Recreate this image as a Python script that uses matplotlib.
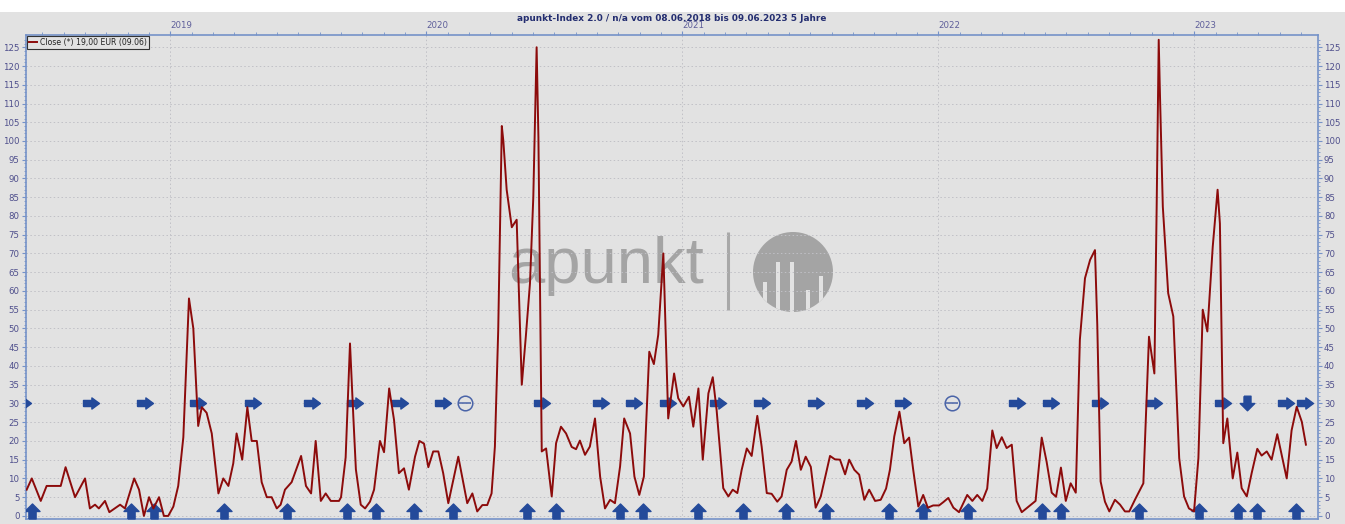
import numpy as np
import matplotlib
matplotlib.use('Agg')
import matplotlib.pyplot as plt
from matplotlib.path import Path
from matplotlib.patches import Rectangle, Circle

# apunkt-Index 2.0, weekly close, x in decimal years
weeks = [
    2018.439, 2018.459, 2018.494, 2018.517, 2018.572, 2018.591, 2018.628, 2018.667, 2018.686, 2018.706,
    2018.721, 2018.745, 2018.762, 2018.804, 2018.823, 2018.859, 2018.878, 2018.897, 2018.917, 2018.934,
    2018.956, 2018.975, 2018.992, 2019.012, 2019.031, 2019.051, 2019.073, 2019.090, 2019.109, 2019.123,
    2019.142, 2019.162, 2019.188, 2019.207, 2019.227, 2019.246, 2019.259, 2019.281, 2019.301, 2019.318,
    2019.338, 2019.357, 2019.377, 2019.396, 2019.416, 2019.431, 2019.448, 2019.474, 2019.511, 2019.530,
    2019.550, 2019.568, 2019.588, 2019.607, 2019.627, 2019.659, 2019.667, 2019.685, 2019.702, 2019.715,
    2019.725, 2019.744, 2019.761, 2019.780, 2019.796, 2019.819, 2019.835, 2019.855, 2019.874, 2019.893,
    2019.913, 2019.932, 2019.956, 2019.973, 2019.991, 2020.008, 2020.027, 2020.047, 2020.066, 2020.086,
    2020.125, 2020.160, 2020.180, 2020.199, 2020.219, 2020.238, 2020.255, 2020.268, 2020.281, 2020.295,
    2020.301, 2020.314, 2020.334, 2020.353, 2020.373, 2020.389, 2020.405, 2020.418, 2020.431, 2020.438,
    2020.451, 2020.468, 2020.490, 2020.507, 2020.526, 2020.546, 2020.568, 2020.585, 2020.600, 2020.620,
    2020.639, 2020.659, 2020.679, 2020.698, 2020.718, 2020.737, 2020.757, 2020.773, 2020.796, 2020.813,
    2020.832, 2020.850, 2020.871, 2020.889, 2020.906, 2020.926, 2020.945, 2020.968, 2020.984, 2021.004,
    2021.026, 2021.043, 2021.063, 2021.080, 2021.102, 2021.119, 2021.134, 2021.160, 2021.180, 2021.197,
    2021.215, 2021.232, 2021.252, 2021.271, 2021.293, 2021.310, 2021.330, 2021.349, 2021.371, 2021.388,
    2021.408, 2021.427, 2021.444, 2021.463, 2021.482, 2021.502, 2021.521, 2021.541, 2021.577, 2021.596,
    2021.616, 2021.636, 2021.652, 2021.672, 2021.691, 2021.711, 2021.730, 2021.753, 2021.775, 2021.796,
    2021.811, 2021.828, 2021.848, 2021.867, 2021.886, 2021.902, 2021.922, 2021.941, 2021.959, 2021.980,
    2022.003, 2022.020, 2022.039, 2022.059, 2022.081, 2022.113, 2022.133, 2022.152, 2022.172, 2022.191,
    2022.211, 2022.228, 2022.248, 2022.267, 2022.287, 2022.306, 2022.326, 2022.380, 2022.404, 2022.423,
    2022.443, 2022.460, 2022.479, 2022.498, 2022.517, 2022.537, 2022.553, 2022.573, 2022.593, 2022.612,
    2022.621, 2022.634, 2022.651, 2022.668, 2022.690, 2022.710, 2022.729, 2022.746, 2022.768, 2022.801,
    2022.823, 2022.844, 2022.853, 2022.861, 2022.866, 2022.877, 2022.898, 2022.918, 2022.941, 2022.960,
    2022.979, 2022.999, 2023.016, 2023.033, 2023.051, 2023.072, 2023.091, 2023.100, 2023.113, 2023.129,
    2023.150, 2023.168, 2023.185, 2023.205, 2023.224, 2023.246, 2023.263, 2023.283, 2023.302, 2023.324,
    2023.361, 2023.380, 2023.400, 2023.420, 2023.436]

close = [
    7, 10, 4, 8, 8, 13, 5, 10, 2, 3,
    2, 4, 1, 3, 2, 10, 7, 0, 5, 2,
    5, 0, 0, 2.5, 8, 21, 58, 50, 24, 29,
    27.5, 22, 6, 10, 8, 14, 22, 15, 29, 20,
    20, 9, 5, 5, 2, 3, 7, 9, 16, 8,
    6, 20, 4, 6, 4, 4, 5, 15.6, 46, 26.5,
    12.4, 3, 2, 3.8, 7, 20, 17, 34, 25.6, 11.4,
    12.7, 7, 15.8, 20, 19.3, 13, 17.2, 17.2, 11.4, 3.4,
    15.8, 3.4, 6, 1.2, 2.9, 2.9, 6, 18.5, 49.6, 104,
    100, 87, 77, 79, 35, 48, 62, 85, 125, 101,
    17.2, 18, 5.2, 19.4, 23.8, 22, 18.4, 17.8, 20.1, 16.3,
    18.5, 26, 10.5, 2, 4.3, 3.4, 13.2, 26, 22, 10.5,
    5.6, 10.5, 43.8, 40.5, 48.3, 70, 26, 38, 31.4, 29.2,
    31.8, 23.8, 34, 15, 32.7, 37, 28.3, 7.4, 5.2, 7,
    6.1, 12.3, 18, 16, 26.7, 18.5, 6.1, 5.9, 3.8, 5.2,
    12.3, 14.5, 20, 12.3, 15.8, 13.1, 2.2, 5.2, 16, 15.1,
    15, 11.1, 15, 12.3, 11, 4.3, 7, 4, 4.3, 7.3,
    12.3, 21.2, 27.8, 19.4, 20.9, 12.3, 2.5, 5.6, 2.2, 2.8,
    2.8, 3.7, 4.8, 2.2, 1, 5.6, 4, 5.6, 4, 7.3,
    22.8, 18.1, 21, 18.1, 19, 4, 1, 4, 20.9, 14.5,
    6.2, 5.1, 12.9, 4, 8.7, 6.2, 47, 63.4, 68.3, 70.9,
    51, 9.2, 3.8, 1.2, 4.3, 3, 1.2, 1.2, 4.3, 8.7,
    47.8, 38, 82.5, 127, 112, 82.5, 59.4, 53.2, 15.4, 5.2,
    2, 1.2, 15.4, 55, 49.2, 71.8, 87, 78, 19.4, 26,
    10, 16.9, 7.4, 5.2, 11.4, 17.9, 16.1, 17.2, 15, 21.8,
    10, 22.8, 29.1, 25.1, 19]

# signals
hold_dates = [2018.425, 2018.690, 2018.901, 2019.109, 2019.322, 2019.552, 2019.721, 2019.897,
              2020.064, 2020.451, 2020.682, 2020.811, 2020.945, 2021.138, 2021.310, 2021.521,
              2021.712, 2021.864, 2022.306, 2022.440, 2022.630, 2022.842, 2023.111, 2023.358,
              2023.434]
buy_dates = [2018.461, 2018.846, 2018.936, 2019.210, 2019.455, 2019.689, 2019.802, 2019.953,
             2020.105, 2020.392, 2020.507, 2020.757, 2020.848, 2021.063, 2021.238, 2021.405,
             2021.560, 2021.809, 2021.941, 2022.115, 2022.404, 2022.479, 2022.785, 2023.018,
             2023.170, 2023.246, 2023.397]
sell_dates = [2023.205]
neutral_dates = [2020.151, 2022.055]
hold_level = 30
buy_level = 1.3

years = [2019, 2020, 2021, 2022, 2023]
title = "apunkt-Index 2.0 / n/a vom 08.06.2018 bis 09.06.2023 5 Jahre"
legend_label = "Close (*) 19,00 EUR (09.06)"

bg_col = '#e2e2e2'
axis_col = '#7592c8'
label_col = '#4f4f8c'
sig_col = '#244a9a'
line_col = '#8c0b0b'

# arrow shaped markers
right_arrow = Path([(-1, -0.38), (0.05, -0.38), (0.05, -0.7), (1, 0), (0.05, 0.7),
                    (0.05, 0.38), (-1, 0.38), (-1, -0.38)])
up_arrow = Path([(-0.48, -1), (0.48, -1), (0.48, 0), (1, 0), (0, 1), (-1, 0),
                 (-0.48, 0), (-0.48, -1)])
down_arrow = Path([(-0.48, 1), (0.48, 1), (0.48, 0), (1, 0), (0, -1), (-1, 0),
                   (-0.48, 0), (-0.48, 1)])

fig = plt.figure(figsize=(13.45, 5.24), dpi=100, facecolor=bg_col)

# background layer in pixel units: white strip on top + watermark
back = fig.add_axes([0, 0, 1, 1], zorder=0)
back.set_xlim(0, 1345)
back.set_ylim(524, 0)
back.axis('off')
back.add_patch(Rectangle((0, 0), 1345, 12, color='white', lw=0))
back.text(606, 283, 'apunkt', fontsize=47, family='Liberation Sans', color='#a4a4a4',
          ha='center', va='baseline')
back.plot([728, 728], [232, 310], color='#a8a8a8', lw=2.2, solid_capstyle='butt')
logo = Circle((793, 272), 40, color='#a4a4a4', lw=0)
back.add_patch(logo)
for gx, gy in [(763, 282), (776, 262), (790, 262), (806, 290), (819, 276)]:
    gap = Rectangle((gx, gy), 4, 60, color=bg_col, lw=0)
    back.add_patch(gap)
    gap.set_clip_path(logo)

fig.text(0.4996, 0.9656, title, ha='center', va='center', fontsize=6.4,
         fontweight='bold', color='#232d70')

ax = fig.add_axes([0.0191, 0.0091, 0.9606, 0.9241], zorder=1)
ax.set_facecolor('none')

ax.plot(hold_dates, [hold_level] * len(hold_dates), ls='none', marker=right_arrow,
        ms=11.5, color=sig_col, mec=sig_col, zorder=3)
ax.plot(buy_dates, [buy_level] * len(buy_dates), ls='none', marker=up_arrow,
        ms=10.8, color=sig_col, mec=sig_col, zorder=3)
ax.plot(sell_dates, [hold_level] * len(sell_dates), ls='none', marker=down_arrow,
        ms=10.5, color=sig_col, mec=sig_col, zorder=3)
ax.plot(neutral_dates, [hold_level] * len(neutral_dates), ls='none', marker='o',
        ms=10.5, mfc='none', mec='#4a64a8', mew=1.1, zorder=3)
ax.plot(neutral_dates, [hold_level] * len(neutral_dates), ls='none', marker='_',
        ms=8, mec='#4a64a8', mew=1.1, zorder=3)

ax.plot(weeks, close, color=line_col, lw=1.4, zorder=4, label=legend_label)

ax.set_xlim(2018.4352, 2023.482)
ax.set_ylim(-0.88, 128.27)

# y axis on both sides
ax.set_yticks(np.arange(0, 126, 5))
ax.set_yticks(np.arange(0, 128, 1), minor=True)
ax.tick_params(axis='y', which='both', left=True, right=True, labelleft=True,
               labelright=True, colors=axis_col, labelcolor=label_col, labelsize=6.2,
               pad=1.5)
ax.tick_params(axis='y', which='major', length=3, width=0.8)
ax.tick_params(axis='y', which='minor', length=1.5, width=0.6)

# years on top, monthly minor ticks
ax.xaxis.set_ticks_position('top')
ax.set_xticks(years)
ax.set_xticklabels([str(y) for y in years])
ax.set_xticks(np.arange(2018.5, 2023.49, 1 / 12), minor=True)
ax.tick_params(axis='x', which='both', colors=axis_col, labelcolor='#5e5e9a',
               labelsize=6.2, pad=0.5)
ax.tick_params(axis='x', which='major', length=3, width=0.8)
ax.tick_params(axis='x', which='minor', length=2, width=0.6)
for lbl in ax.get_xticklabels():
    lbl.set_horizontalalignment('left')

ax.grid(True, which='major', color='#c0c0c6', ls=(0, (1.5, 2.5)), lw=0.7, zorder=0)

for side in ['left', 'right', 'top', 'bottom']:
    ax.spines[side].set_color(axis_col)
    ax.spines[side].set_linewidth(1.2)

leg = ax.legend(loc='upper left', bbox_to_anchor=(0.0, 1.0), borderaxespad=0.15,
                fontsize=5.6, handlelength=1.1, handletextpad=0.4, borderpad=0.25,
                fancybox=False, framealpha=1, facecolor=bg_col, edgecolor='#333333')
leg.get_frame().set_linewidth(0.8)
for t in leg.get_texts():
    t.set_color('#222222')

fig.savefig('out.png', dpi=100, facecolor=bg_col)
